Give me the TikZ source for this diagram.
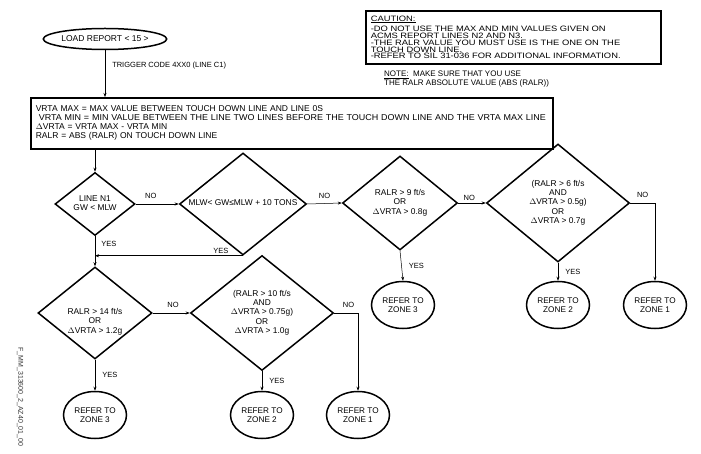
\documentclass[tikz,border=0pt]{standalone}
\usepackage{fontspec}
\setmainfont{Liberation Sans}
\newfontfamily\widefont[FakeStretch=1.2]{Liberation Sans}
\newfontfamily\longfont[FakeStretch=1.055]{Liberation Sans}
\usetikzlibrary{shapes.geometric, arrows.meta, positioning, calc}
% zero-size centred text for the decision diamonds
\newcommand{\dtext}[2][-2pt]{\raisebox{#1}[0pt][0pt]{\makebox[0pt]{\begin{tabular}{@{}c@{}}#2\end{tabular}}}}

\begin{document}
\begin{tikzpicture}[
    x=1pt, y=-1pt,
    decision/.style={
      diamond, draw, line width=1.5pt, inner sep=0pt,
      font=\fontsize{8.4}{9.2}\selectfont
    },
    zone/.style={
      ellipse, draw, line width=1.5pt, inner sep=0pt,
      minimum width=63pt, minimum height=47pt,
      align=center, font=\fontsize{8.2}{8.5}\selectfont
    },
    infobox/.style={draw, line width=1.6pt, anchor=north west, align=left, inner xsep=5pt, inner ysep=2pt},
    flow/.style={-{Stealth[length=4pt, width=3pt]}, line width=0.5pt},
    tag/.style={font=\fontsize{7.5}{9}\selectfont, inner sep=1pt}
  ]
    \useasboundingbox (0,0) rectangle (701,454);

    % Start and notes
    \node[zone, minimum width=123pt, minimum height=21pt, font=\fontsize{8.5}{9}\selectfont] (load) at (105,39) {LOAD REPORT < 15 >};

    \node[infobox, minimum width=295pt, minimum height=53pt, text width=285pt,
          font=\widefont\fontsize{7.8}{6.8}\selectfont] (caution) at (365,10)
      {\underline{CAUTION:}\\[2pt]
       -DO NOT USE THE MAX AND MIN VALUES GIVEN ON\\
       ACMS REPORT LINES N2 AND N3.\\
       -THE RALR VALUE YOU MUST USE IS THE ONE ON THE\\
       TOUCH DOWN LINE.\\
       -REFER TO SIL 31-036 FOR ADDITIONAL INFORMATION.};

    \node[tag, anchor=north west, align=left, font=\fontsize{8}{9}\selectfont] (note) at (383,70)
      {\underline{NOTE:}\ \ MAKE SURE THAT YOU USE\\THE RALR ABSOLUTE VALUE (ABS (RALR))};

    \node[infobox, minimum width=522pt, minimum height=51pt, text width=512pt,
          font=\fontsize{8.5}{9}\selectfont] (vrta) at (30,97)
      {VRTA MAX = MAX VALUE BETWEEN TOUCH DOWN LINE AND LINE 0S\\
       \mbox{\longfont\hspace*{3pt}VRTA MIN = MIN VALUE BETWEEN THE LINE TWO LINES BEFORE THE TOUCH DOWN LINE AND THE VRTA MAX LINE}\\
       $\Delta$VRTA = VRTA MAX - VRTA MIN\\
       RALR = ABS (RALR) ON TOUCH DOWN LINE};

    \node[tag, rotate=-90, font=\fontsize{7}{8}\selectfont, text=black!80] (figref) at (20,397)
      {F\_MM\_313600\_2\_AZ40\_01\_00};

    % Decisions, upper row
    \node[decision, minimum width=80pt, minimum height=63pt] (d1) at (95,204)
      {\dtext{LINE N1\\GW < MLW}};
    \node[decision, minimum width=127pt, minimum height=102pt] (d2) at (243,204)
      {\dtext{MLW< GW≤MLW + 10 TONS}};
    \node[decision, minimum width=115pt, minimum height=94pt] (d3) at (400,203)
      {\dtext{RALR > 9 ft/s\\OR\\$\Delta$VRTA > 0.8g}};
    \node[decision, minimum width=143pt, minimum height=118pt] (d4) at (558,203)
      {\dtext{(RALR > 6 ft/s\\AND\\$\Delta$VRTA > 0.5g)\\OR\\$\Delta$VRTA > 0.7g}};

    % Decisions, lower row
    \node[decision, minimum width=114pt, minimum height=92pt] (d5) at (95,313)
      {\dtext[-11pt]{RALR > 14 ft/s\\OR\\$\Delta$VRTA > 1.2g}};
    \node[decision, minimum width=143pt, minimum height=115pt] (d6) at (262,313)
      {\dtext{(RALR > 10 ft/s\\AND\\$\Delta$VRTA > 0.75g)\\OR\\$\Delta$VRTA > 1.0g}};

    % Zones
    \node[zone] (z3a) at (403,305) {REFER TO\\ZONE 3};
    \node[zone] (z2a) at (558,305) {REFER TO\\ZONE 2};
    \node[zone] (z1a) at (655,305) {REFER TO\\ZONE 1};
    \node[zone] (z3b) at (95,415) {REFER TO\\ZONE 3};
    \node[zone] (z2b) at (262,415) {REFER TO\\ZONE 2};
    \node[zone] (z1b) at (358,415) {REFER TO\\ZONE 1};

    % Connectors
    \draw[flow] (load.south) -- (load.south |- vrta.north)
      node[tag, right=6pt, pos=0.32] {TRIGGER CODE 4XX0 (LINE C1)};
    \draw[flow] (vrta.south -| d1.north) -- (d1.north);
    \draw[flow] (d1.east) -- (d2.west) node[tag, above=4pt, pos=0.35] {NO};
    \draw[flow] (d2.east) -- (d3.west) node[tag, above=4pt, pos=0.5] {NO};
    \draw[flow] (d3.east) -- (d4.west) node[tag, above=1pt, pos=0.4] {NO};
    \draw[flow] (d4.east) -| (z1a.north) node[tag, above=4pt, pos=0.25] {NO};
    \draw[flow] (d3.south) -- (z3a.north) node[tag, right=6pt, midway] {YES};
    \draw[flow] (d4.south) -- (z2a.north) node[tag, right=6pt, midway] {YES};
    \draw[flow] (d1.south) -- (d5.north) node[tag, right=5pt, pos=0.25] {YES};
    \draw[flow] (d2.south) -- (d2.south -| d1.south) node[tag, above=1pt, pos=0.15] {YES};
    \draw[flow] (d5.east) -- (d6.west) node[tag, above=4pt, pos=0.55] {NO};
    \draw[flow] (d6.east) -| (z1b.north) node[tag, above=4pt, pos=0.3] {NO};
    \draw[flow] (d5.south) -- (z3b.north) node[tag, right=6pt, midway] {YES};
    \draw[flow] (d6.south) -- (z2b.north) node[tag, right=6pt, midway] {YES};
  \end{tikzpicture}
\end{document}
